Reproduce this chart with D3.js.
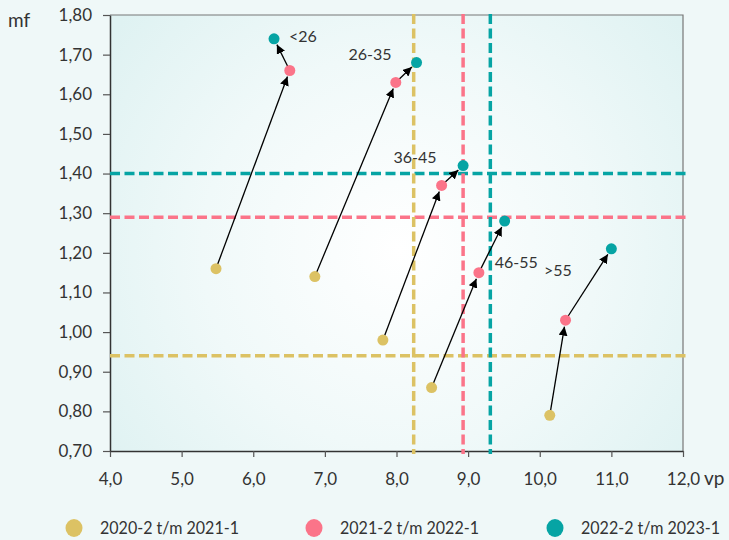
<!DOCTYPE html>
<html><head><meta charset="utf-8">
<script src="https://cdn.jsdelivr.net/npm/d3@7"></script>
<style>
body{margin:0;background:#eff8f8;}
svg{display:block;font-family:Lato,"Open Sans",sans-serif;}
</style></head>
<body><svg id="c" width="729" height="540"></svg>
<script>
// ---- data ----
const groups = ["<26", "26-35", "36-45", "46-55", ">55"];
const seriesNames = ["2020-2 t/m 2021-1", "2021-2 t/m 2022-1", "2022-2 t/m 2023-1"];
const vp2021 = [5.48, 6.86, 7.81, 8.49, 10.14];
const mf2021 = [1.16, 1.14, 0.98, 0.86, 0.79];
const vp2022 = [6.51, 7.99, 8.63, 9.15, 10.36];
const mf2022 = [1.66, 1.63, 1.37, 1.15, 1.03];
const vp2023 = [6.29, 8.28, 8.93, 9.51, 11.00];
const mf2023 = [1.74, 1.68, 1.42, 1.28, 1.21];
const avgVp = [8.24, 8.93, 9.31];
const avgMf = [0.94, 1.29, 1.40];
const xTicks = [4, 5, 6, 7, 8, 9, 10, 11, 12];
const yTicks = [0.7, 0.8, 0.9, 1.0, 1.1, 1.2, 1.3, 1.4, 1.5, 1.6, 1.7, 1.8];

const colors = ["#dcc264", "#fb7489", "#06a4a4"];
const svg = d3.select("#c");
const L = 110, R = 683, T = 15, B = 451;
const x = d3.scaleLinear().domain([4, 12]).range([L, R]);
const y = d3.scaleLinear().domain([0.7, 1.8]).range([B, T]);
const comma = (v, d) => v.toFixed(d).replace(".", ",");

// background gradient
const defs = svg.append("defs");
const rg = defs.append("radialGradient").attr("id", "bg")
  .attr("gradientUnits", "userSpaceOnUse")
  .attr("cx", 400).attr("cy", 250).attr("r", 360);
rg.append("stop").attr("offset", "0").attr("stop-color", "#ffffff");
rg.append("stop").attr("offset", "0.55").attr("stop-color", "#f0f9f9");
rg.append("stop").attr("offset", "1").attr("stop-color", "#dff2f2");
svg.append("rect").attr("x", L).attr("y", T).attr("width", R - L).attr("height", B - T)
  .attr("fill", "url(#bg)");

// frame top/right
svg.append("path").attr("d", `M${L},${T}H${R}V${B}`).attr("fill", "none")
  .attr("stroke", "#777").attr("stroke-width", 1.2);

// axes
const xAxis = svg.append("g").attr("transform", `translate(0,${B})`)
  .call(d3.axisBottom(x).tickValues(xTicks).tickSize(6).tickSizeOuter(0).tickFormat(d => comma(d, 1)));
const yAxis = svg.append("g").attr("transform", `translate(${L},0)`)
  .call(d3.axisLeft(y).tickValues(yTicks).tickSize(7).tickSizeOuter(0).tickFormat(d => comma(d, 2)));
[xAxis, yAxis].forEach(g => {
  g.attr("font-family", null).attr("font-size", null);
  g.select(".domain").attr("stroke", "#333").attr("stroke-width", 1.5);
  g.selectAll(".tick line").attr("stroke", "#555").attr("stroke-width", 1.2);
  g.selectAll(".tick text").attr("fill", "#333").style("font-size", "17px");
});
xAxis.selectAll(".tick text").attr("y", 0).attr("dy", 0).attr("transform", "translate(0,34)");
yAxis.selectAll(".tick text").attr("x", -18);

svg.append("text").attr("x", 8).attr("y", 27).attr("fill", "#333")
  .style("font-size", "19px").text("mf");
svg.append("text").attr("x", 704).attr("y", 485).attr("fill", "#333")
  .style("font-size", "19px").text("vp");

// reference lines
const dash = "10,4.5";
avgMf.forEach((v, i) => {
  svg.append("line").attr("x1", L).attr("x2", R + 3).attr("y1", y(v)).attr("y2", y(v))
    .attr("stroke", colors[i]).attr("stroke-width", 3.5).attr("stroke-dasharray", dash);
});
avgVp.forEach((v, i) => {
  svg.append("line").attr("x1", x(v)).attr("x2", x(v)).attr("y1", T - 1).attr("y2", B + 3)
    .attr("stroke", colors[i]).attr("stroke-width", 3.5).attr("stroke-dasharray", dash);
});

// arrows
defs.append("marker").attr("id", "ah").attr("viewBox", "0 0 10 10")
  .attr("refX", 10).attr("refY", 5).attr("markerWidth", 9).attr("markerHeight", 9)
  .attr("markerUnits", "userSpaceOnUse").attr("orient", "auto")
  .append("path").attr("d", "M0,0L10,5L0,10Z").attr("fill", "#000");

const series = [[vp2021, mf2021], [vp2022, mf2022], [vp2023, mf2023]];
const rad = 5.5;
function arrow(x0, y0, x1, y1) {
  const dx = x1 - x0, dy = y1 - y0, len = Math.hypot(dx, dy);
  const ux = dx / len, uy = dy / len;
  svg.append("line").attr("x1", x0 + ux * 2).attr("y1", y0 + uy * 2)
    .attr("x2", x1 - ux * (rad + 1)).attr("y2", y1 - uy * (rad + 1))
    .attr("stroke", "#000").attr("stroke-width", 1.3).attr("marker-end", "url(#ah)");
}
groups.forEach((g, i) => {
  for (let s = 0; s < 2; s++) {
    arrow(x(series[s][0][i]), y(series[s][1][i]), x(series[s + 1][0][i]), y(series[s + 1][1][i]));
  }
});

// points
series.forEach((s, si) => {
  svg.append("g").selectAll("circle").data(groups).join("circle")
    .attr("cx", (d, i) => x(s[0][i])).attr("cy", (d, i) => y(s[1][i]))
    .attr("r", rad).attr("fill", colors[si]);
});

// group labels (placed in data units)
const labelPos = [[6.50, 1.745, "start"], [7.93, 1.70, "end"], [8.56, 1.44, "end"], [9.37, 1.175, "start"], [10.06, 1.155, "start"]];
groups.forEach((g, i) => {
  svg.append("text").attr("x", x(labelPos[i][0])).attr("y", y(labelPos[i][1]))
    .attr("text-anchor", labelPos[i][2]).attr("dy", "0.35em")
    .attr("fill", "#333").style("font-size", "16px").text(g);
});

// legend (condensed look)
const lgX = [74, 314, 555];
seriesNames.forEach((n, i) => {
  svg.append("ellipse").attr("cx", lgX[i]).attr("cy", 528).attr("rx", 8.5).attr("ry", 9)
    .attr("fill", colors[i]);
  svg.append("text").attr("x", lgX[i] + 26).attr("y", 528).attr("dy", "0.35em")
    .attr("fill", "#333").style("font-size", "16.5px")
    .attr("textLength", 139).attr("lengthAdjust", "spacingAndGlyphs").text(n);
});
</script></body></html>
